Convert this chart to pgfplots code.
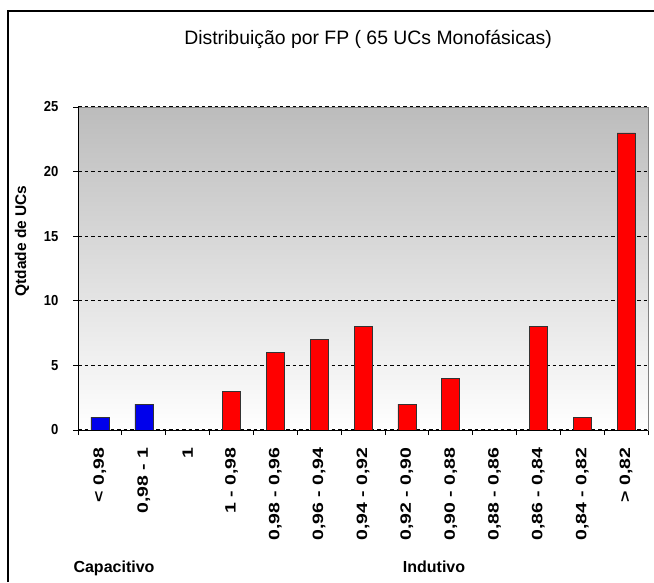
\documentclass[border=0pt]{standalone}
\usepackage{fontspec}
\setmainfont{Liberation Sans}
\newfontfamily\wide[FakeStretch=1.3]{Liberation Sans}
\usepackage{graphicx}
\usepackage{pgfplots}
\pgfplotsset{compat=1.18}
\definecolor{bgtop}{RGB}{188,188,188}
\definecolor{bred}{RGB}{255,0,0}
\definecolor{bblue}{RGB}{0,0,235}
\newcommand\ytl[1]{\scalebox{0.9}[1]{\bfseries\fontsize{14.5}{14.5}\selectfont #1}}
\begin{document}
\begin{tikzpicture}[x=1pt,y=1pt]
\useasboundingbox (0,0) rectangle (654,582);
\draw[line width=2pt] (8,0) -- (8,571) -- (660,571);
\begin{axis}[
 at={(78pt,152pt)}, anchor=south west,
 scale only axis, width=570pt, height=323pt,
 xmin=-0.5, xmax=12.5, ymin=0, ymax=25,
 ytick={0,5,...,25},
 yticklabels={\ytl{0},\ytl{5},\ytl{10},\ytl{15},\ytl{20},\ytl{25}},
 xtick={0,...,12},
 xticklabels={{< 0,98},{0,98 - 1},{1},{1 - 0,98},{0,98 - 0,96},{0,96 - 0,94},{0,94 - 0,92},{0,92 - 0,90},{0,90 - 0,88},{0,88 - 0,86},{0,86 - 0,84},{0,84 - 0,82},{> 0,82}},
 minor xtick={-0.5,0.5,...,12.5},
 major x tick style={draw=none},
 tick align=outside, ytick pos=left, xtick pos=bottom,
 major tick length=5pt, minor tick length=5pt,
 tick style={black, line width=0.8pt},
 axis background/.style={shade, top color=bgtop, bottom color=white},
 axis line style={draw=gray},
 ymajorgrids,
 grid style={black, line width=1.2pt, dash pattern=on 3.5pt off 3pt},
 /pgf/number format/assume math mode=true,
 yticklabel style={xshift=-11pt},
 xticklabel style={rotate=90, anchor=east, font=\wide\bfseries\fontsize{15}{15}\selectfont},
 xticklabel shift=9pt,
 title={Distribuição por FP ( 65 UCs Monofásicas)},
 title style={at={(axis description cs:0.509,1)}, anchor=base, yshift=57pt, font=\fontsize{19.4}{21}\selectfont},
 ylabel={Qtdade de UCs},
 ylabel style={at={(axis description cs:-0.098,0.585)}, anchor=center, font=\bfseries\fontsize{15.5}{15.5}\selectfont},
 ybar, bar width=18pt,
]
\addplot[fill=bblue, draw=black!80, bar shift=0pt] coordinates {(0,1) (1,2)};
\addplot[fill=bred, draw=black!80, bar shift=0pt] coordinates {(3,3) (4,6) (5,7) (6,8) (7,2) (8,4) (10,8) (11,1) (12,23)};
\draw[gray, line width=1pt] (rel axis cs:0,1) -- (rel axis cs:1,1) -- (rel axis cs:1,0);
\draw[black, line width=1pt] (rel axis cs:0,1) -- (rel axis cs:0,0) -- (rel axis cs:1,0);
\end{axis}
\node[anchor=base, font=\bfseries\fontsize{16}{16}\selectfont] at (114,10) {Capacitivo};
\node[anchor=base, font=\bfseries\fontsize{16}{16}\selectfont] at (434,10) {Indutivo};
\end{tikzpicture}
\end{document}
